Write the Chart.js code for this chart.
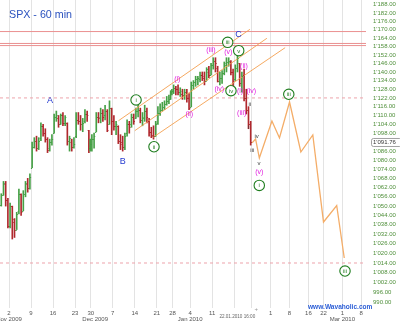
<!DOCTYPE html>
<html>
<head>
<meta charset="utf-8">
<script src="https://cdn.jsdelivr.net/npm/chart.js@4.4.0/dist/chart.umd.min.js"></script>
<style>
  html, body { margin: 0; padding: 0; background: #fff; }
</style>
</head>
<body>
<canvas id="spx" width="400" height="322"></canvas>
<script>
// x = hourly session index, 0 = open of 2 Nov 2009 (7 bars per full day)
// each bar below covers half a session
var barTime = [-12.25, -8.75, -5.25, -1.75, 1.75, 5.25, 8.75, 12.25, 15.75, 19.25,
  22.75, 26.25, 29.75, 33.25, 36.75, 40.25, 43.75, 47.25, 50.75, 54.25,
  57.75, 61.25, 64.75, 68.25, 71.75, 75.25, 78.75, 82.25, 85.75, 89.25,
  92.75, 96.25, 99.75, 103.25, 106.75, 110.25, 113.75, 117.25, 120.75, 124.25,
  127, 129, 131.75, 135.25, 138.75, 142.25, 145.75, 149.25, 152.75, 156.25,
  159.75, 163.25, 166.75, 170.25, 173.75, 177.25, 180.75, 184.25, 187.75, 191.25,
  194.75, 198.25, 201.75, 205.25, 208.75, 212.25, 215.75, 219.25, 222.75, 226.25,
  229.75, 233.25, 236.75, 240.25, 243.75, 247.25, 250.75, 254.25, 257, 259,
  261.75, 265.25, 268.75, 272.25, 275.75, 279.25, 282.75, 286.25, 289.75, 293.25,
  296.75, 300.25, 303.75, 307.25, 310.75, 314.25, 317.75, 321.25, 324.75, 328.25,
  331.75, 335.25, 338.75, 342.25, 345.75, 349.25, 352.75, 356.25, 359.75, 363.25,
  366.75, 370.25, 373.75, 377.25, 380.75, 384.25];
var barOpen = [1051, 1057, 1064, 1054, 1037, 1050, 1040, 1035, 1047, 1058,
  1047, 1058, 1064, 1062, 1075, 1089, 1093, 1088, 1095, 1103,
  1098, 1094, 1088, 1092, 1098, 1109, 1108, 1104, 1110, 1105,
  1105, 1093, 1092, 1089, 1096, 1107, 1106, 1104, 1106, 1111,
  1100, 1088, 1091, 1094, 1099, 1109, 1109, 1112, 1110, 1113,
  1104, 1115, 1106, 1103, 1103, 1093, 1091, 1089, 1098, 1104,
  1104, 1109, 1108, 1113, 1114, 1107, 1109, 1113, 1106, 1099,
  1097, 1096, 1105, 1112, 1114, 1116, 1118, 1120, 1121, 1126,
  1127, 1129, 1128, 1126, 1125, 1124, 1126, 1122, 1116, 1131,
  1133, 1135, 1135, 1138, 1136, 1134, 1140, 1138, 1145, 1148,
  1143, 1134, 1136, 1139, 1145, 1147, 1147, 1140, 1135, 1143,
  1146, 1132, 1138, 1122, 1114, 1104];
var barHigh = [1058, 1066, 1066, 1055, 1052, 1050, 1042, 1046, 1061, 1058,
  1060, 1066, 1068, 1071, 1092, 1095, 1096, 1095, 1105, 1104,
  1101, 1095, 1094, 1097, 1111, 1113, 1110, 1111, 1112, 1110,
  1105, 1096, 1094, 1095, 1112, 1112, 1110, 1108, 1114, 1113,
  1100, 1094, 1097, 1098, 1112, 1112, 1115, 1114, 1117, 1114,
  1120, 1115, 1110, 1106, 1103, 1097, 1096, 1098, 1107, 1106,
  1111, 1111, 1115, 1117, 1115, 1112, 1117, 1115, 1108, 1102,
  1103, 1106, 1116, 1118, 1119, 1120, 1123, 1124, 1127, 1128,
  1131, 1130, 1131, 1129, 1128, 1128, 1128, 1125, 1133, 1134,
  1137, 1137, 1140, 1140, 1140, 1143, 1144, 1146, 1150, 1150,
  1144, 1140, 1141, 1147, 1150, 1150, 1148, 1142, 1145, 1151,
  1146, 1140, 1142, 1128, 1116, 1106];
var barLow = [1050, 1057, 1050, 1036, 1036, 1029, 1030, 1035, 1045, 1044,
  1047, 1056, 1059, 1061, 1075, 1088, 1086, 1087, 1093, 1096,
  1092, 1085, 1086, 1090, 1098, 1106, 1102, 1104, 1103, 1103,
  1090, 1086, 1086, 1088, 1095, 1104, 1100, 1099, 1105, 1106,
  1085, 1086, 1086, 1088, 1099, 1105, 1105, 1106, 1107, 1099,
  1104, 1097, 1100, 1097, 1091, 1087, 1086, 1087, 1096, 1098,
  1102, 1104, 1108, 1109, 1105, 1103, 1106, 1105, 1096, 1095,
  1094, 1096, 1104, 1110, 1113, 1114, 1117, 1118, 1121, 1124,
  1125, 1124, 1124, 1123, 1121, 1121, 1119, 1114, 1116, 1128,
  1130, 1131, 1133, 1134, 1131, 1134, 1136, 1138, 1142, 1140,
  1133, 1131, 1132, 1138, 1140, 1144, 1138, 1130, 1134, 1140,
  1130, 1126, 1120, 1111, 1101, 1090];
var barClose = [1057, 1065, 1054, 1037, 1050, 1042, 1035, 1045, 1058, 1046,
  1058, 1065, 1062, 1069, 1089, 1093, 1088, 1093, 1103, 1098,
  1094, 1087, 1092, 1094, 1109, 1110, 1104, 1110, 1105, 1109,
  1093, 1095, 1089, 1091, 1107, 1106, 1104, 1105, 1111, 1110,
  1088, 1091, 1094, 1096, 1109, 1108, 1112, 1109, 1113, 1100,
  1115, 1106, 1103, 1104, 1093, 1092, 1089, 1096, 1104, 1102,
  1109, 1106, 1113, 1114, 1107, 1108, 1113, 1109, 1099, 1096,
  1096, 1104, 1112, 1114, 1116, 1118, 1120, 1121, 1126, 1127,
  1129, 1128, 1126, 1127, 1124, 1126, 1122, 1115, 1131, 1133,
  1135, 1136, 1138, 1137, 1134, 1142, 1138, 1145, 1148, 1146,
  1134, 1136, 1139, 1146, 1147, 1148, 1140, 1134, 1143, 1150,
  1132, 1137, 1122, 1114, 1104, 1091.76];
var lastClose = 1091.76;

// projected path after the last bar
var fcTime = [386.5, 392, 398, 418, 430, 446, 464, 483, 500, 521, 533];
var fcPrice = [1091.5, 1094.1, 1081.4, 1106.2, 1094.8, 1119.2, 1085.4, 1096.8, 1039.8, 1050.4, 1017.1];

// trend channel lines (start / end)
var chanTime0 = [174, 200, 229];
var chanPrice0 = [1106.4, 1099.7, 1095.2];
var chanTime1 = [383, 410, 439];
var chanPrice1 = [1170.2, 1163.8, 1157.1];

// horizontal levels
var solidLevels = [1168.6, 1160.1, 1158.6];
var dashLevels = [1122, 1014];

// wave count labels
var waveText = ['A', 'B', 'C', 'i', 'ii', 'iii', 'iv', 'v', '(i)', '(ii)', '(iii)', '(iv)', '(v)',
  '(i)', '(ii)', '(iii)', '(iv)', '(v)', 'i', 'i', 'ii', 'iii', 'iv', 'v', 'iii', 'iii'];
var waveTime = [65, 181, 365, 202, 230.5, 347.7, 352.9, 365.2, 267.6, 286.6, 321.1, 334.3, 348.6,
  367.3, 373.6, 370, 385.2, 397.9, 397.9, 381.1, 382.7, 386.8, 393.8, 397.5, 444.8, 534.2];
var wavePrice = [1120.1, 1079.2, 1166.3, 1120.6, 1088.9, 1160.9, 1127.0, 1155.0, 1135.1, 1111.0, 1155.5, 1127.9, 1154.0,
  1127.0, 1144.4, 1111.9, 1127.0, 1072.0, 1063.4, 1101.9, 1117.6, 1086.2, 1095.6, 1077.9, 1124.5, 1009.0];
var waveKind = ['abc', 'abc', 'abc', 'circ', 'circ', 'circ', 'circ', 'circ', 'par', 'par', 'par', 'par', 'par',
  'par', 'par', 'par', 'par', 'par', 'circ', 'min', 'min', 'min', 'min', 'min', 'circ', 'circ'];

// axis ticks
var weekTicks = [0, 35, 70, 105, 130, 165, 200, 235, 260, 288, 323, 358, 386, 416, 446, 476, 500, 530, 560];
var weekLabels = ['2', '9', '16', '23', '30', '7', '14', '21', '28', '4', '11', '', '', '1', '8', '16', '22', '1', '8'];
var monthTicks = [0, 137, 288, 530];
var monthLabels = ['Nov 2009', 'Dec 2009', 'Jan 2010', 'Mar 2010'];
var priceTicks = [1188, 1182, 1176, 1170, 1164, 1158, 1152, 1146, 1140, 1134, 1128, 1122, 1116, 1110,
  1104, 1098, 1086, 1080, 1074, 1068, 1062, 1056, 1050, 1044, 1038, 1032, 1026, 1020, 1014,
  1008, 1002, 996, 990];
var cursorTime = 393;
var cursorLabel = '22.01.2010 16:00';

var X_MIN = -14.31, X_MAX = 567.57;
var FONT = 'Liberation Sans, Arial, sans-serif';
var UP = '#46a046', DOWN = '#b0282d';

function fmtPrice(v) {
  var s = v.toFixed(2).split('.');
  var n = s[0];
  if (n.length > 3) n = n.slice(0, -3) + "'" + n.slice(-3);
  return n + '.' + s[1];
}

var candleData = [];
var candleColors = [];
for (var i = 0; i < barTime.length; i++) {
  candleData.push({x: barTime[i], y: [barLow[i], barHigh[i]]});
  candleColors.push(barClose[i] >= barOpen[i] ? UP : DOWN);
}

// first dataset is painted last (on top)
var datasets = [];
for (var c = 0; c < chanTime0.length; c++) {
  datasets.push({
    type: 'line',
    data: [{x: chanTime0[c], y: chanPrice0[c]}, {x: chanTime1[c], y: chanPrice1[c]}],
    borderColor: 'rgba(244,160,80,0.9)',
    borderWidth: 1,
    pointRadius: 0
  });
}
datasets.push({
  type: 'line',
  data: fcTime.map(function (t, k) { return {x: t, y: fcPrice[k]}; }),
  borderColor: '#f4ad68',
  borderWidth: 1.3,
  pointRadius: 0
});
datasets.push({
  type: 'bar',
  data: candleData,
  backgroundColor: candleColors,
  barThickness: 1
});
solidLevels.forEach(function (p) {
  datasets.push({
    type: 'line',
    data: [{x: X_MIN, y: p}, {x: X_MAX, y: p}],
    borderColor: '#ea9090',
    borderWidth: 1,
    pointRadius: 0
  });
});
dashLevels.forEach(function (p) {
  datasets.push({
    type: 'line',
    data: [{x: X_MIN, y: p}, {x: X_MAX, y: p}],
    borderColor: '#eda3ab',
    borderWidth: 1,
    borderDash: [3, 3],
    pointRadius: 0
  });
});

function noPad(scale) {
  scale.paddingLeft = 0;
  scale.paddingRight = 0;
  scale.paddingTop = 0;
  scale.paddingBottom = 0;
}

// ohlc ticks, wave labels and texts
var overlay = {
  id: 'overlay',
  afterDatasetsDraw: function (chart) {
    var c = chart.ctx, x = chart.scales.x, y = chart.scales.y, a = chart.chartArea;
    c.save();

    // open / close ticks of the bars
    c.lineWidth = 1;
    for (var b = 0; b < barTime.length; b++) {
      var bx = x.getPixelForValue(barTime[b]);
      c.strokeStyle = candleColors[b];
      var oy = Math.round(y.getPixelForValue(barOpen[b])) + 0.5;
      var cy = Math.round(y.getPixelForValue(barClose[b])) + 0.5;
      c.beginPath();
      c.moveTo(bx - 1.2, oy); c.lineTo(bx, oy);
      c.moveTo(bx, cy); c.lineTo(bx + 1.2, cy);
      c.stroke();
    }

    c.textAlign = 'center';
    c.textBaseline = 'middle';
    for (var k = 0; k < waveText.length; k++) {
      var px = x.getPixelForValue(waveTime[k]);
      var py = y.getPixelForValue(wavePrice[k]);
      var kind = waveKind[k];
      if (kind === 'abc') {
        c.font = '9px ' + FONT;
        c.fillStyle = '#2338d0';
        c.fillText(waveText[k], px, py);
      } else if (kind === 'circ') {
        c.beginPath();
        c.arc(px, py, 5.2, 0, Math.PI * 2);
        c.fillStyle = 'rgba(255,255,255,0.85)';
        c.fill();
        c.lineWidth = 1.1;
        c.strokeStyle = '#1e7d1e';
        c.stroke();
        c.font = '6px ' + FONT;
        c.fillStyle = '#1e7d1e';
        c.fillText(waveText[k], px, py + 0.3);
      } else if (kind === 'par') {
        c.font = '7px ' + FONT;
        c.fillStyle = '#e01ede';
        c.fillText(waveText[k], px, py);
      } else {
        c.font = '6px ' + FONT;
        c.fillStyle = '#3a3a3a';
        c.fillText(waveText[k], px, py);
      }
    }

    // title
    c.textAlign = 'left';
    c.textBaseline = 'alphabetic';
    c.font = '10.7px ' + FONT;
    c.fillStyle = '#2b52bf';
    c.fillText('SPX - 60 min', 9, 18);

    // last price box on the price axis
    var ly = y.getPixelForValue(lastClose);
    var lx = a.right + 7, bw = 30, bh = 8;
    c.fillStyle = '#fff';
    c.strokeStyle = '#8a8a8a';
    c.lineWidth = 0.8;
    c.beginPath();
    c.roundRect(lx - 1.5, ly - bh / 2, bw, bh, 2);
    c.fill(); c.stroke();
    c.font = '6px ' + FONT;
    c.fillStyle = '#333';
    c.textBaseline = 'middle';
    c.fillText(fmtPrice(lastClose), lx, ly + 0.3);

    // cursor date
    var cx = x.getPixelForValue(cursorTime);
    c.textAlign = 'right';
    c.font = '4.6px ' + FONT;
    c.fillStyle = '#666';
    c.fillText(cursorLabel, cx - 1, 317);
    c.textAlign = 'center';
    c.font = '6px ' + FONT;
    c.fillStyle = '#999';
    c.fillText('+', cx, 309);

    // site name, bold and slightly condensed
    c.textAlign = 'left';
    c.textBaseline = 'alphabetic';
    c.translate(308, 308.5);
    c.scale(0.82, 1);
    c.font = 'bold 8px ' + FONT;
    c.fillStyle = '#2c5ed6';
    c.fillText('www.Wavaholic.com', 0, 0);
    c.restore();
  }
};

new Chart(document.getElementById('spx').getContext('2d'), {
  type: 'line',
  data: { datasets: datasets },
  options: {
    responsive: false,
    animation: false,
    events: [],
    layout: { padding: 0 },
    plugins: { legend: { display: false }, tooltip: { enabled: false } },
    scales: {
      x: {
        type: 'linear',
        position: 'bottom',
        min: X_MIN,
        max: X_MAX,
        offset: false,
        border: { display: false },
        grid: { color: '#e3e3e3', lineWidth: 1, drawTicks: false, offset: false },
        afterBuildTicks: function (s) { s.ticks = weekTicks.map(function (v) { return {value: v}; }); },
        afterFit: function (s) { s.height = 8; noPad(s); },
        ticks: {
          autoSkip: false, maxRotation: 0, padding: 2,
          color: '#555', font: { size: 6, family: FONT },
          callback: function (v) { return weekLabels[weekTicks.indexOf(v)]; }
        }
      },
      xm: {
        type: 'linear',
        position: 'bottom',
        min: X_MIN,
        max: X_MAX,
        offset: false,
        border: { display: false },
        grid: { display: false, drawTicks: false },
        afterBuildTicks: function (s) { s.ticks = monthTicks.map(function (v) { return {value: v}; }); },
        afterFit: function (s) { s.height = 6; noPad(s); },
        ticks: {
          autoSkip: false, maxRotation: 0, padding: 0,
          color: '#555', font: { size: 6, family: FONT },
          callback: function (v) { return monthLabels[monthTicks.indexOf(v)]; }
        }
      },
      y: {
        type: 'logarithmic',
        position: 'right',
        min: 986.4,
        max: 1191.43,
        border: { display: false },
        grid: { display: false, drawTicks: false },
        afterBuildTicks: function (s) { s.ticks = priceTicks.map(function (v) { return {value: v}; }); },
        afterFit: function (s) { s.width = 34; noPad(s); },
        ticks: {
          autoSkip: false, padding: 7,
          color: '#4f8f3a', font: { size: 6, family: FONT },
          callback: function (v) { return fmtPrice(v); }
        }
      }
    }
  },
  plugins: [overlay]
});
</script>
</body>
</html>
